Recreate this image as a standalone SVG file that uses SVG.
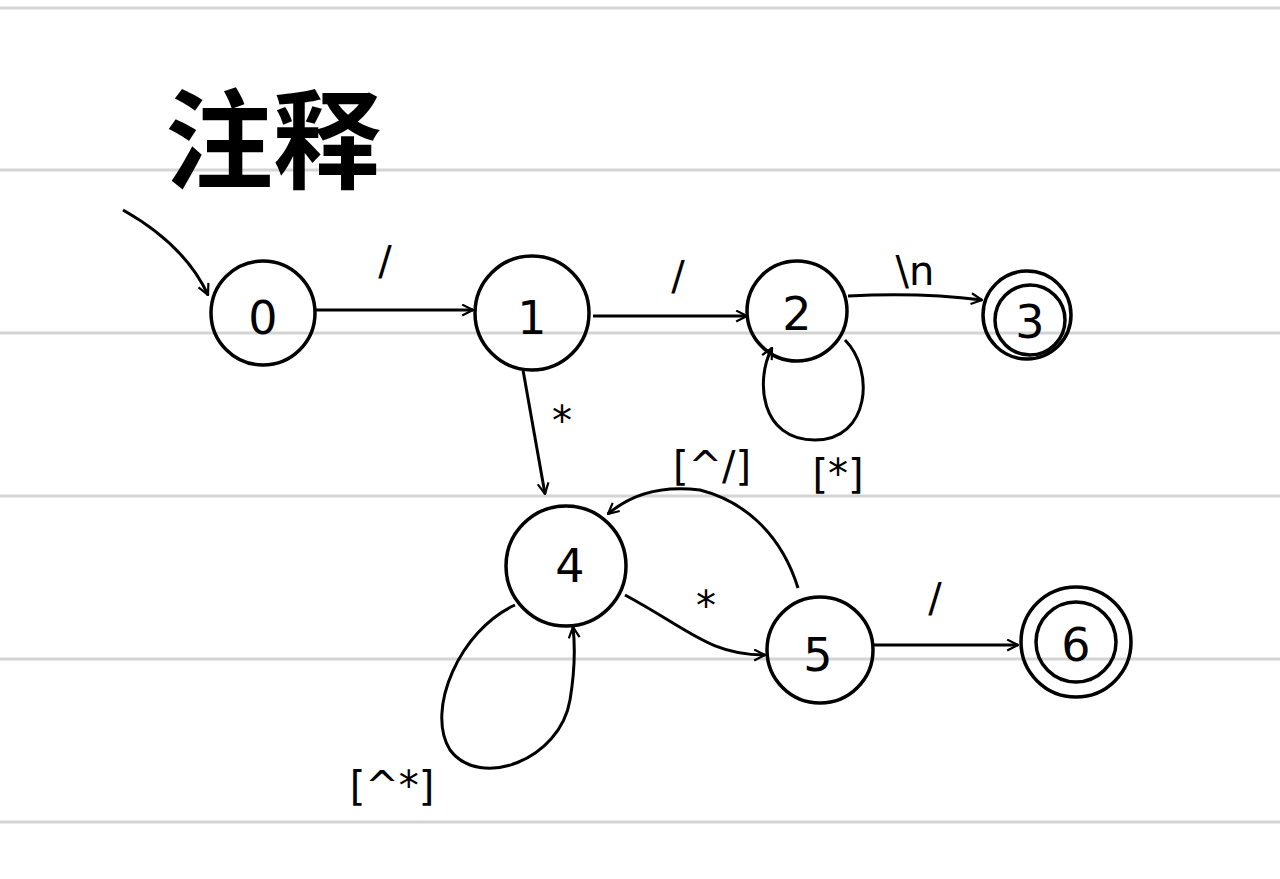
<svg xmlns="http://www.w3.org/2000/svg" width="1280" height="879" viewBox="0 0 1280 879">
<defs>
<style>
.rule{stroke:#d4d4d4;stroke-width:3}
.node{fill:none;stroke:#000;stroke-width:3.5}
.edge{fill:none;stroke:#000;stroke-width:3}
.lbl{font-family:"DejaVu Sans","Liberation Sans",sans-serif;font-size:40px;fill:#000;text-anchor:middle}
.num{font-family:"DejaVu Sans","Liberation Sans",sans-serif;font-size:46px;fill:#000;text-anchor:middle;dominant-baseline:central}
.title{font-family:"Noto Sans CJK SC",sans-serif;font-size:108px;font-weight:bold;fill:#000}
</style>
<marker id="arr" viewBox="0 0 12 12" refX="11" refY="6" markerWidth="13" markerHeight="13" markerUnits="userSpaceOnUse" orient="auto">
<path d="M1,1 L11,6 L1,11" fill="none" stroke="#000" stroke-width="2"/>
</marker>
</defs>
<rect width="1280" height="879" fill="#fff"/>
<g id="rules">
<line class="rule" x1="0" y1="8" x2="1280" y2="8"/>
<line class="rule" x1="0" y1="170" x2="1280" y2="170"/>
<line class="rule" x1="0" y1="333" x2="1280" y2="333"/>
<line class="rule" x1="0" y1="496" x2="1280" y2="496"/>
<line class="rule" x1="0" y1="659" x2="1280" y2="659"/>
<line class="rule" x1="0" y1="822" x2="1280" y2="822"/>
</g>
<text class="title" x="165" y="180">注释</text>
<g id="edges">
<path class="edge" d="M123,210 Q185,245 208,295" marker-end="url(#arr)"/>
<path class="edge" d="M315,310 L473,310" marker-end="url(#arr)"/>
<path class="edge" d="M593,316 L747,316" marker-end="url(#arr)"/>
<path class="edge" d="M848,296 Q920,292 982,300" marker-end="url(#arr)"/>
<path class="edge" d="M845,340 C875,370 870,440 815,440 C760,440 755,380 772,348" marker-end="url(#arr)"/>
<path class="edge" d="M523,370 L545,494" marker-end="url(#arr)"/>
<path class="edge" d="M625,595 C690,630 710,655 765,655" marker-end="url(#arr)"/>
<path class="edge" d="M798,588 C780,530 740,500 700,490 C660,485 630,495 608,514" marker-end="url(#arr)"/>
<path class="edge" d="M515,605 C460,630 425,710 450,750 C480,790 560,760 570,700 C575,670 575,645 573,627" marker-end="url(#arr)"/>
<path class="edge" d="M873,645 L1018,645" marker-end="url(#arr)"/>
</g>
<g id="labels">
<text class="lbl" x="385" y="275">/</text>
<text class="lbl" x="678" y="290">/</text>
<text class="lbl" x="915" y="285">\n</text>
<text class="lbl" x="838" y="488">[*]</text>
<text class="lbl" x="562" y="435">*</text>
<text class="lbl" x="712" y="480">[^/]</text>
<text class="lbl" x="706" y="620">*</text>
<text class="lbl" x="935" y="612">/</text>
<text class="lbl" x="392" y="800">[^*]</text>
</g>
<g id="node0"><circle class="node" cx="263" cy="313" r="52"/><text class="num" x="263" y="318">0</text></g>
<g id="node1"><circle class="node" cx="532" cy="313" r="57"/><text class="num" x="532" y="318">1</text></g>
<g id="node2"><circle class="node" cx="797" cy="311" r="50"/><text class="num" x="797" y="314">2</text></g>
<g id="node3"><circle class="node" cx="1027" cy="315" r="44"/><circle class="node" cx="1030" cy="320" r="35"/><text class="num" x="1030" y="322">3</text></g>
<g id="node4"><circle class="node" cx="566" cy="566" r="60"/><text class="num" x="570" y="566">4</text></g>
<g id="node5"><circle class="node" cx="820" cy="650" r="53"/><text class="num" x="818" y="655">5</text></g>
<g id="node6"><circle class="node" cx="1076" cy="642" r="55"/><circle class="node" cx="1076" cy="642" r="40"/><text class="num" x="1076" y="645">6</text></g>
</svg>
